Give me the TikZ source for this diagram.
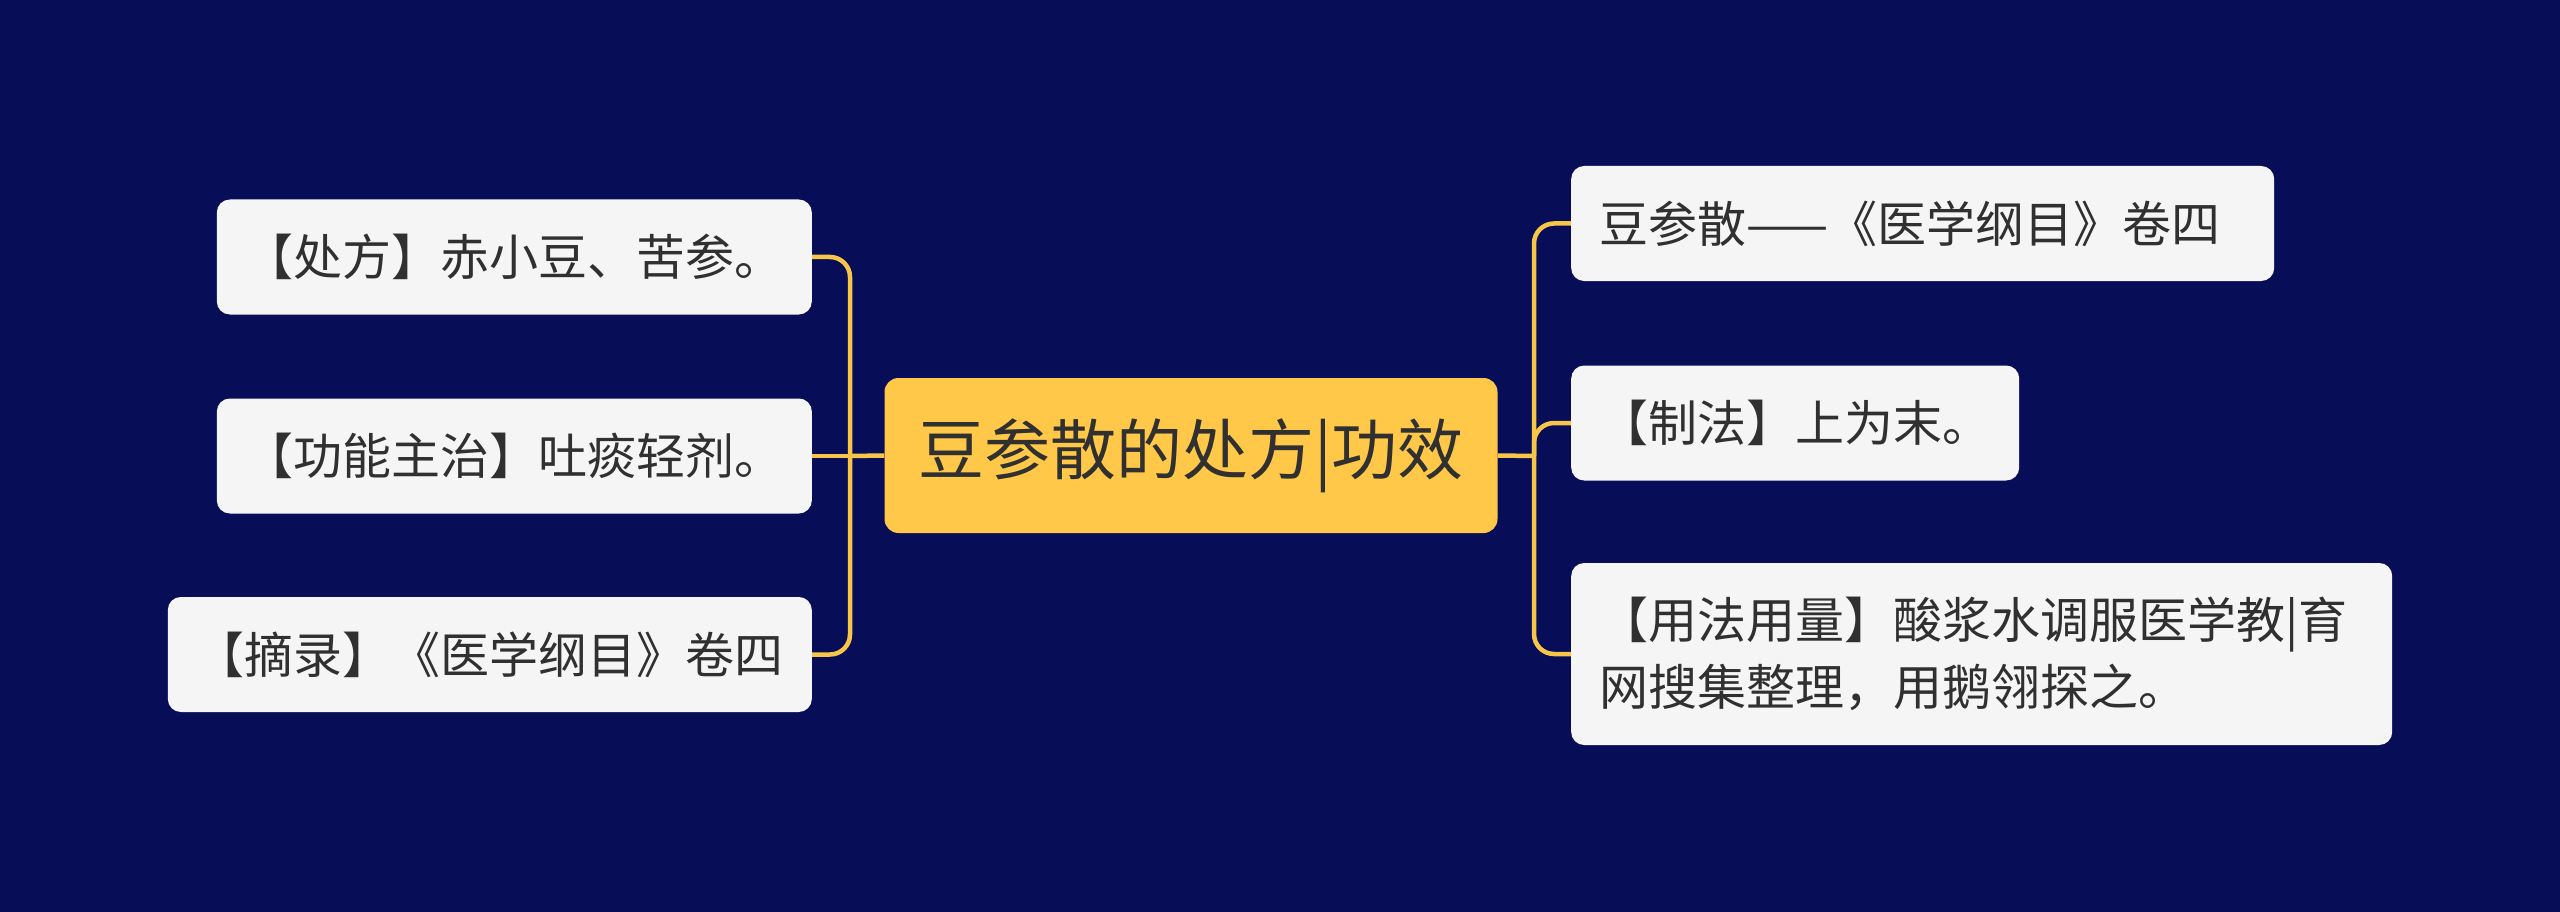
\documentclass[tikz,border=0pt]{standalone}
\usepackage{fontspec}
\newfontfamily\cjk{Noto Sans CJK SC}
\definecolor{bg}{RGB}{8,13,88}
\definecolor{gold}{RGB}{255,200,72}
\definecolor{linec}{RGB}{247,197,72}
\definecolor{boxf}{RGB}{245,245,245}
\definecolor{txt}{RGB}{48,48,48}
\begin{document}
\begin{tikzpicture}[x=1pt,y=-1pt,
  leaf/.style={fill=boxf, rounded corners=13pt, minimum height=115pt, inner xsep=28pt, inner ysep=0pt,
    text=txt, font=\cjk\fontsize{49pt}{67pt}\selectfont, align=left},
  root/.style={fill=gold, rounded corners=14pt, minimum width=613pt, minimum height=155pt,
    text=txt, font=\cjk\fontsize{66pt}{76pt}\selectfont},
  conn/.style={draw=linec, line width=4.5pt, rounded corners=20pt}]
\fill[bg] (0,0) rectangle (2560,912);
\useasboundingbox (0,0) rectangle (2560,912);

\node[root] (c) at (1191,455.5) {豆参散的处方|功效};

\node[leaf, anchor=east] (b1) at (812,257) {【处方】赤小豆、苦参。};
\node[leaf, anchor=east] (b2) at (812,456) {【功能主治】吐痰轻剂。};
\node[leaf, anchor=east] (b3) at (812,654.5) {【摘录】《医学纲目》卷四};

\node[leaf, anchor=west, text width=647pt] (r1) at (1571,223.5) {豆参散——《医学纲目》卷四};
\node[leaf, anchor=west] (r2) at (1571,423) {【制法】上为末。};
\node[leaf, anchor=west, minimum height=182pt, text width=765pt] (r3) at (1571,654) {【用法用量】酸浆水调服医学教|育\\网搜集整理，用鹅翎探之。};

\coordinate (jl) at (850,456);
\coordinate (jr) at (1534,456);

\draw[conn] (c.west) -- (jl);
\draw[conn] (jl) |- (b1.east);
\draw[conn] (jl) -- (b2.east);
\draw[conn] (jl) |- (b3.east);

\draw[conn] (c.east) -- (jr);
\draw[conn] (jr) |- (r1.west);
\draw[conn] (jr) |- (r2.west);
\draw[conn] (jr) |- (r3.west);
\end{tikzpicture}
\end{document}
